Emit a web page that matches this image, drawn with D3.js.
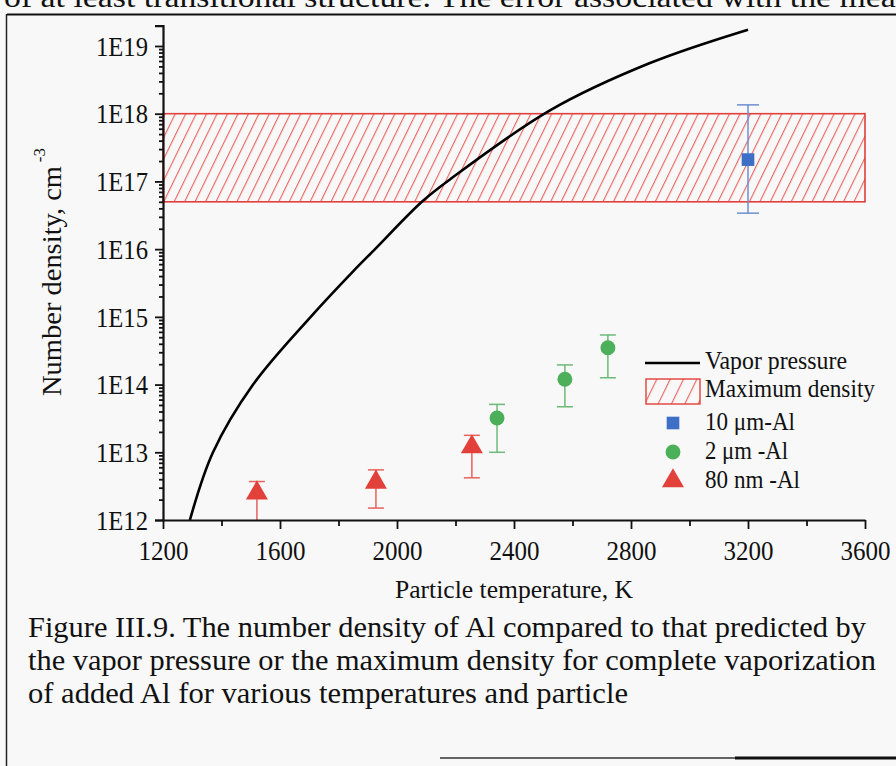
<!DOCTYPE html>
<html>
<head>
<meta charset="utf-8">
<script src="https://cdn.jsdelivr.net/npm/d3@7"></script>
<style>
  html, body { margin: 0; padding: 0; background: #f8f8f8; }
  svg { display: block; }
  text { font-family: "Liberation Serif", "Times New Roman", serif; fill: #111; }
</style>
</head>
<body>
<svg id="chart" width="896" height="766"></svg>
<script>
// ---- Data ----
const vaporT = [1292, 1371, 1508, 1705, 1850, 1925, 2085, 2181, 2523, 2865, 3200];
const vaporN = [1.0e12, 1.0e13, 1.0e14, 1.0e15, 4.7e15, 1.0e16, 5.0e16, 1.07e17, 1.12e18, 5.6e18, 1.74e19];

const maxDensityRange = [5.0e16, 1.0e18];

const um10T = [3200];
const um10N = [2.1e17];
const um10Lo = [3.4e16];
const um10Hi = [1.35e18];

const um2T = [2342, 2574, 2721];
const um2N = [3.2e13, 1.2e14, 3.5e14];
const um2Lo = [1.0e13, 4.7e13, 1.26e14];
const um2Hi = [5.1e13, 1.95e14, 5.4e14];

const nm80T = [1521, 1928, 2256];
const nm80N = [2.5e12, 3.6e12, 1.2e13];
const nm80Lo = [5.0e11, 1.5e12, 4.2e12];
const nm80Hi = [3.7e12, 5.5e12, 1.78e13];

const xTicks = [1200, 1600, 2000, 2400, 2800, 3200, 3600];
const xMinorTicks = [1400, 1800, 2200, 2600, 3000, 3400];
const yTicks = [1e12, 1e13, 1e14, 1e15, 1e16, 1e17, 1e18, 1e19];
const yTickLabels = ["1E12", "1E13", "1E14", "1E15", "1E16", "1E17", "1E18", "1E19"];

const legendLabels = ["Vapor pressure", "Maximum density", "10 \u03bcm-Al", "2 \u03bcm -Al", "80 nm -Al"];
const xTitle = "Particle temperature, K";
const yTitle = "Number density, cm";
const captionLines = [
  "Figure III.9. The number density of Al compared to that predicted by",
  "the vapor pressure or the maximum density for complete vaporization",
  "of added Al for various temperatures and particle"
];
const pageTopText = "of at least transitional structure. The error associated with the meas";

// ---- Colours ----
const RED = "#e2403a", RED_LIGHT = "#e8625c";
const GREEN = "#4caf5a", GREEN_LIGHT = "#6cba76";
const BLUE = "#3d6fc6", BLUE_LIGHT = "#6f8fd3";

const svg = d3.select("#chart");

// Page frame and text
svg.append("text").attr("x", 4).attr("y", 7).attr("font-size", 30)
  .attr("textLength", 905).attr("lengthAdjust", "spacingAndGlyphs").text(pageTopText);
svg.append("line").attr("x1", 7).attr("x2", 896).attr("y1", 14.5).attr("y2", 14.5)
  .attr("stroke", "#111").attr("stroke-width", 2);
svg.append("line").attr("x1", 6.5).attr("x2", 6.5).attr("y1", 14).attr("y2", 766)
  .attr("stroke", "#222").attr("stroke-width", 1.5);
svg.append("line").attr("x1", 440).attr("x2", 896).attr("y1", 758).attr("y2", 758)
  .attr("stroke", "#333").attr("stroke-width", 1.5);
svg.append("line").attr("x1", 735).attr("x2", 896).attr("y1", 758).attr("y2", 758)
  .attr("stroke", "#111").attr("stroke-width", 3);

// ---- Scales ----
const x = d3.scaleLinear().domain([1200, 3600]).range([163, 865]);
const y = d3.scaleLog().domain([1e12, 2e19]).range([520, 25.6]);

// Hatch patterns
const defs = svg.append("defs");
function hatch(id, w) {
  const p = defs.append("pattern").attr("id", id).attr("patternUnits", "userSpaceOnUse")
    .attr("width", w).attr("height", 10).attr("patternTransform", "rotate(26)");
  p.append("line").attr("x1", 0.6).attr("y1", 0).attr("x2", 0.6).attr("y2", 10)
    .attr("stroke", RED_LIGHT).attr("stroke-width", 1.1);
}
hatch("hatch", 9.4);
hatch("hatchLeg", 12);
defs.append("clipPath").attr("id", "plotclip").append("rect")
  .attr("x", 163).attr("y", 0).attr("width", 702).attr("height", 520);

// Max density band
svg.append("rect")
  .attr("x", x(1200)).attr("width", x(3600) - x(1200))
  .attr("y", y(maxDensityRange[1])).attr("height", y(maxDensityRange[0]) - y(maxDensityRange[1]))
  .attr("fill", "url(#hatch)").attr("stroke", RED).attr("stroke-width", 1.6);

// Vapor pressure curve
const vapor = vaporT.map((t, i) => ({ t, n: vaporN[i] }));
svg.append("path").datum(vapor)
  .attr("d", d3.line().x(d => x(d.t)).y(d => y(d.n)).curve(d3.curveCatmullRom.alpha(0.5)))
  .attr("fill", "none").attr("stroke", "#000").attr("stroke-width", 2.6);

// Error bars
function errorBars(T, N, Lo, Hi, color, cap) {
  const g = svg.append("g").attr("clip-path", "url(#plotclip)");
  const data = T.map((t, i) => ({ t, n: N[i], lo: Lo[i], hi: Hi[i] }));
  g.selectAll(".v").data(data).join("line")
    .attr("x1", d => x(d.t)).attr("x2", d => x(d.t))
    .attr("y1", d => y(d.lo)).attr("y2", d => y(d.hi))
    .attr("stroke", color).attr("stroke-width", 1.5);
  g.selectAll(".ct").data(data).join("line")
    .attr("x1", d => x(d.t) - cap).attr("x2", d => x(d.t) + cap)
    .attr("y1", d => y(d.hi)).attr("y2", d => y(d.hi))
    .attr("stroke", color).attr("stroke-width", 1.5);
  g.selectAll(".cb").data(data).join("line")
    .attr("x1", d => x(d.t) - cap).attr("x2", d => x(d.t) + cap)
    .attr("y1", d => y(d.lo)).attr("y2", d => y(d.lo))
    .attr("stroke", color).attr("stroke-width", 1.5);
  return data;
}
const d10 = errorBars(um10T, um10N, um10Lo, um10Hi, BLUE_LIGHT, 11);
const d2 = errorBars(um2T, um2N, um2Lo, um2Hi, GREEN_LIGHT, 8);
const d80 = errorBars(nm80T, nm80N, nm80Lo, nm80Hi, RED_LIGHT, 8);

const sq = d3.symbol().type(d3.symbolSquare).size(160);
const ci = d3.symbol().type(d3.symbolCircle).size(175);
const tr = d3.symbol().type(d3.symbolTriangle).size(210);

svg.selectAll(".m10").data(d10).join("path")
  .attr("d", sq).attr("transform", d => `translate(${x(d.t)},${y(d.n)})`).attr("fill", BLUE);
svg.selectAll(".m2").data(d2).join("path")
  .attr("d", ci).attr("transform", d => `translate(${x(d.t)},${y(d.n)})`).attr("fill", GREEN);
svg.selectAll(".m80").data(d80).join("path")
  .attr("d", tr).attr("transform", d => `translate(${x(d.t)},${y(d.n)})`).attr("fill", RED);

// ---- Axes ----
const xAxis = svg.append("g").attr("transform", "translate(0,520)")
  .call(d3.axisBottom(x).tickValues(xTicks).tickFormat(d3.format("d")).tickSize(9).tickSizeOuter(0).tickPadding(7));
const xMinor = svg.append("g").attr("transform", "translate(0,520)")
  .call(d3.axisBottom(x).tickValues(xMinorTicks).tickFormat("").tickSize(6).tickSizeOuter(0));
xMinor.select(".domain").remove();

const minorY = [];
yTicks.forEach(v => { for (let k = 2; k <= 9; k++) { const m = v * k; if (m < 2e19) minorY.push(m); } });
const yMinor = svg.append("g").attr("transform", "translate(163,0)")
  .call(d3.axisLeft(y).tickValues(minorY).tickFormat("").tickSize(4).tickSizeOuter(0));
yMinor.select(".domain").remove();
const yAxis = svg.append("g").attr("transform", "translate(163,0)")
  .call(d3.axisLeft(y).tickValues(yTicks).tickFormat((d, i) => yTickLabels[i]).tickSize(8).tickSizeOuter(8).tickPadding(7));

[xAxis, xMinor, yMinor, yAxis].forEach(g => {
  g.selectAll("line").attr("stroke", "#111").attr("stroke-width", 1.8);
  g.selectAll(".domain").attr("stroke", "#111").attr("stroke-width", 2.2);
  g.selectAll("text").attr("font-family", "Liberation Serif, serif").attr("font-size", 27).attr("fill", "#111")
    .attr("lengthAdjust", "spacingAndGlyphs");
});
xAxis.selectAll("text").attr("dy", "0.9em").attr("textLength", 50);
yAxis.selectAll("text").attr("dy", "0.34em").attr("textLength", 52);

// Axis titles
svg.append("text").attr("x", 514).attr("y", 598).attr("text-anchor", "middle")
  .attr("font-size", 25).attr("textLength", 238).attr("lengthAdjust", "spacingAndGlyphs").text(xTitle);
svg.append("text").attr("transform", "translate(61,396) rotate(-90)").attr("font-size", 28)
  .attr("textLength", 230).attr("lengthAdjust", "spacingAndGlyphs").text(yTitle);
svg.append("text").attr("transform", "translate(45,148) rotate(-90)").attr("font-size", 17)
  .attr("text-anchor", "end").text("-3");

// ---- Legend ----
const lg = svg.append("g");
lg.append("line").attr("x1", 645).attr("x2", 700).attr("y1", 363).attr("y2", 363)
  .attr("stroke", "#000").attr("stroke-width", 2.6);
lg.append("rect").attr("x", 646).attr("y", 379).attr("width", 54).attr("height", 25)
  .attr("fill", "url(#hatchLeg)").attr("stroke", RED).attr("stroke-width", 1.4);
lg.append("path").attr("d", sq).attr("transform", "translate(673,423)").attr("fill", BLUE);
lg.append("path").attr("d", ci).attr("transform", "translate(673,452)").attr("fill", GREEN);
lg.append("path").attr("d", tr).attr("transform", "translate(673,481)").attr("fill", RED);
const legendY = [369, 397, 430, 459, 488];
const legendW = [142, 170, 90, 83, 95];
lg.selectAll(".lt").data(legendLabels).join("text")
  .attr("x", 705).attr("y", (d, i) => legendY[i])
  .attr("font-size", 25).attr("textLength", (d, i) => legendW[i]).attr("lengthAdjust", "spacingAndGlyphs")
  .text(d => d);

// ---- Caption ----
const capLen = [838, 848, 600];
const capY = [637, 670, 703];
svg.selectAll(".cap").data(captionLines).join("text")
  .attr("x", 28).attr("y", (d, i) => capY[i]).attr("font-size", 30)
  .attr("textLength", (d, i) => capLen[i]).attr("lengthAdjust", "spacingAndGlyphs")
  .text(d => d);
</script>
</body>
</html>
